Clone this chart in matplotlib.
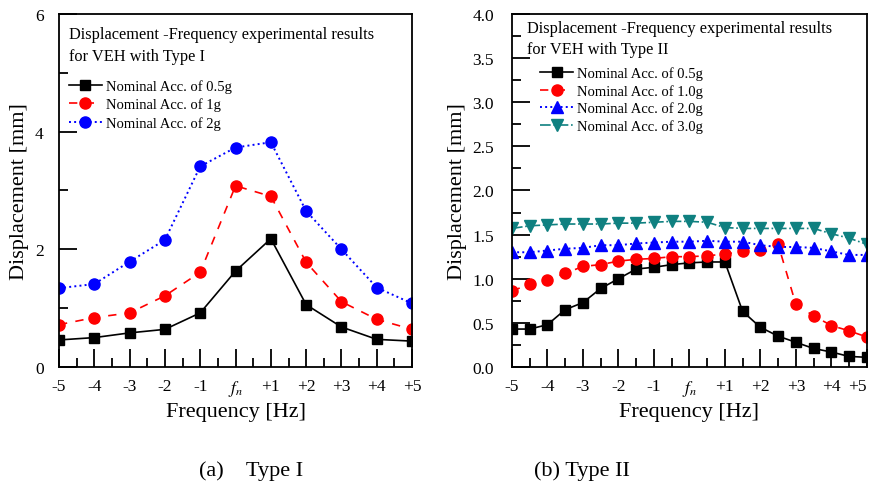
import numpy as np
import matplotlib.pyplot as plt
from matplotlib.ticker import MultipleLocator

plt.rcParams['font.family'] = ['Liberation Serif', 'DejaVu Serif']
plt.rcParams['mathtext.fontset'] = 'stix'

# Type I data (integer offsets from f_n)
x1 = [-5, -4, -3, -2, -1, 0, 1, 2, 3, 4, 5]
t1_05g = [0.46, 0.50, 0.58, 0.64, 0.92, 1.63, 2.18, 1.06, 0.68, 0.47, 0.44]
t1_1g = [0.72, 0.84, 0.92, 1.21, 1.61, 3.08, 2.90, 1.78, 1.11, 0.81, 0.64]
t1_2g = [1.34, 1.41, 1.79, 2.16, 3.41, 3.73, 3.82, 2.65, 2.00, 1.35, 1.08]

# Type II data (half-Hz steps)
x2 = [-5, -4.5, -4, -3.5, -3, -2.5, -2, -1.5, -1, -0.5, 0,
      0.5, 1, 1.5, 2, 2.5, 3, 3.5, 4, 4.5, 5]
t2_05g = [0.43, 0.43, 0.48, 0.65, 0.73, 0.89, 1.00, 1.11, 1.13, 1.16, 1.18,
          1.19, 1.19, 0.63, 0.45, 0.35, 0.28, 0.21, 0.17, 0.12, 0.11]
t2_1g = [0.86, 0.94, 0.99, 1.06, 1.14, 1.16, 1.20, 1.22, 1.23, 1.25, 1.25,
         1.26, 1.28, 1.31, 1.33, 1.39, 0.71, 0.58, 0.47, 0.41, 0.34]
t2_2g = [1.30, 1.30, 1.32, 1.34, 1.35, 1.38, 1.38, 1.40, 1.41, 1.42, 1.42,
         1.43, 1.42, 1.42, 1.38, 1.36, 1.36, 1.35, 1.31, 1.27, 1.27]
t2_3g = [1.57, 1.60, 1.61, 1.62, 1.62, 1.62, 1.63, 1.63, 1.64, 1.65, 1.65,
         1.64, 1.58, 1.57, 1.57, 1.57, 1.57, 1.57, 1.51, 1.46, 1.39]

xticks = [-5, -4, -3, -2, -1, 0, 1, 2, 3, 4, 5]
xticklabels = ['-5', '-4', '-3', '-2', '-1', '$f_n$', '+1', '+2', '+3', '+4', '+5']

fig = plt.figure(figsize=(8.74, 4.85), dpi=100)
ax1 = fig.add_axes([0.0675, 0.2412, 0.404, 0.728])
ax2 = fig.add_axes([0.5858, 0.2412, 0.406, 0.728])


def style(ax, ymax, ymajor, ypad):
    ax.set_xlim(-5, 5)
    ax.set_ylim(0, ymax)
    ax.set_xticks(xticks)
    ax.set_xticklabels(xticklabels)
    ax.xaxis.set_minor_locator(MultipleLocator(0.5))
    ax.yaxis.set_major_locator(MultipleLocator(ymajor))
    ax.yaxis.set_minor_locator(MultipleLocator(ymajor / 2))
    ax.tick_params(which='both', direction='in', width=1.3, top=False, right=False)
    ax.tick_params(which='major', length=13)
    ax.tick_params(which='minor', length=6.5)
    ax.tick_params(axis='x', labelsize=12.5, pad=8)
    ax.tick_params(axis='y', labelsize=12.5, pad=ypad)
    for s in ax.spines.values():
        s.set_linewidth(1.3)
    ax.set_xlabel('Frequency [Hz]', fontsize=16, labelpad=3)
    ax.set_ylabel('Displacement [mm]', fontsize=16)


# Type I
ax1.plot(x1, t1_05g, '-', color='black', lw=1.2, marker='s', ms=7.5, label='Nominal Acc. of 0.5g')
ax1.plot(x1, t1_1g, '--', color='red', lw=1.2, marker='o', ms=8, dashes=(5, 5), label='Nominal Acc. of 1g')
ax1.plot(x1, t1_2g, ':', color='blue', lw=1.4, marker='o', ms=8, label='Nominal Acc. of 2g')
style(ax1, 6, 2, 11)
ax1.text(0.028, 0.943, 'Displacement -Frequency experimental results', transform=ax1.transAxes,
         fontsize=11.8, va='center', ha='left')
ax1.text(0.028, 0.881, 'for VEH with Type I', transform=ax1.transAxes,
         fontsize=11.8, va='center', ha='left')
ax1.legend(loc='upper left', bbox_to_anchor=(0.028, 0.815), frameon=False, fontsize=10.5,
           borderpad=0, borderaxespad=0, handlelength=2.26, handletextpad=0.3, labelspacing=0.32)

# Type II
ax2.plot(x2, t2_05g, '-', color='black', lw=1.2, marker='s', ms=7.5, label='Nominal Acc. of 0.5g')
ax2.plot(x2, t2_1g, '--', color='red', lw=1.2, marker='o', ms=8, dashes=(5, 5), label='Nominal Acc. of 1.0g')
ax2.plot(x2, t2_2g, ':', color='blue', lw=1.4, marker='^', ms=8.5, label='Nominal Acc. of 2.0g')
ax2.plot(x2, t2_3g, '-.', color='#0f8080', lw=1.2, marker='v', ms=8.5, label='Nominal Acc. of 3.0g')
style(ax2, 4, 0.5, 13)
ax2.yaxis.set_major_formatter(plt.FormatStrFormatter('%.1f'))
ax2.get_xticklabels()[-1].set_horizontalalignment('right')
ax2.text(0.042, 0.960, 'Displacement -Frequency experimental results', transform=ax2.transAxes,
         fontsize=11.8, va='center', ha='left')
ax2.text(0.042, 0.901, 'for VEH with Type II', transform=ax2.transAxes,
         fontsize=11.8, va='center', ha='left')
ax2.legend(loc='upper left', bbox_to_anchor=(0.079, 0.852), frameon=False, fontsize=10.5,
           borderpad=0, borderaxespad=0, handlelength=2.26, handletextpad=0.3, labelspacing=0.27)

fig.text(0.287, 0.029, '(a)    Type I', fontsize=16, ha='center', va='center')
fig.text(0.666, 0.029, '(b) Type II', fontsize=16, ha='center', va='center')

fig.savefig('out.png', dpi=100)
